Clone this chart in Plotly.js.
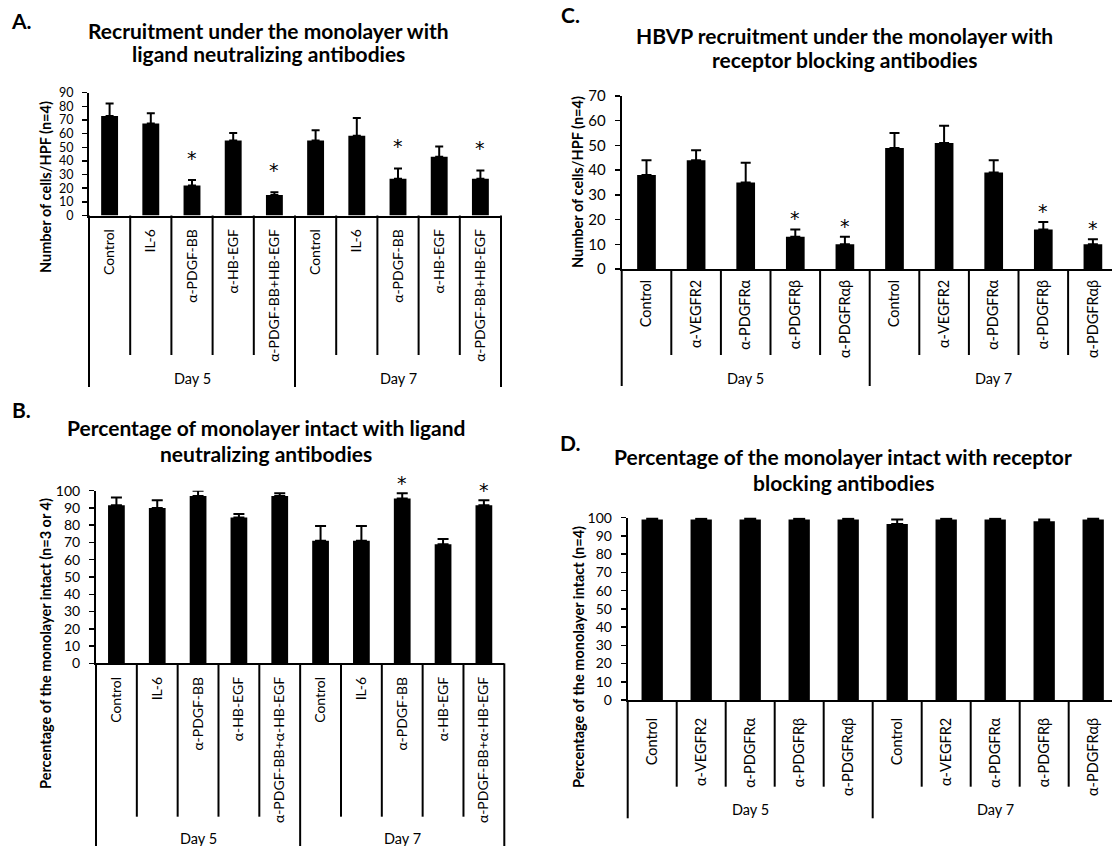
<!DOCTYPE html>
<html><head><meta charset="utf-8">
<script src="https://cdn.plot.ly/plotly-3.0.1.min.js"></script>
<style>html,body{margin:0;padding:0;background:#fff;overflow:hidden}#chart{width:1112px;height:846px}</style>
</head><body><div id="chart"></div>
<script>
// ---------- DATA ----------
const groups = ['Day 5', 'Day 7'];

const labelsA = ['Control','IL-6','α-PDGF-BB','α-HB-EGF','α-PDGF-BB+HB-EGF','Control','IL-6','α-PDGF-BB','α-HB-EGF','α-PDGF-BB+HB-EGF'];
const meanA = [73, 67.5, 22, 55, 15, 55, 58.5, 27, 43, 27];
const errA  = [9, 7.5, 4, 5.5, 2, 7.5, 13, 7.5, 7.5, 6];
const sigA  = [0, 0, 1, 0, 1, 0, 0, 1, 0, 1];

const labelsB = ['Control','IL-6','α-PDGF-BB','α-HB-EGF','α-PDGF-BB+α-HB-EGF','Control','IL-6','α-PDGF-BB','α-HB-EGF','α-PDGF-BB+α-HB-EGF'];
const meanB = [91.5, 90, 97, 84.5, 97, 71, 71, 95.5, 69, 91.5];
const errB  = [4.5, 4.5, 3, 2, 1.5, 8.5, 8.5, 3, 3, 3];
const sigB  = [0, 0, 0, 0, 0, 0, 0, 1, 0, 1];

const labelsC = ['Control','α-VEGFR2','α-PDGFRα','α-PDGFRβ','α-PDGFRαβ','Control','α-VEGFR2','α-PDGFRα','α-PDGFRβ','α-PDGFRαβ'];
const meanC = [38, 44, 35, 13, 10, 49, 51, 39, 16, 10];
const errC  = [6, 4, 8, 3, 3, 6, 7, 5, 3, 2];
const sigC  = [0, 0, 0, 1, 1, 0, 0, 0, 1, 1];

const labelsD = ['Control','α-VEGFR2','α-PDGFRα','α-PDGFRβ','α-PDGFRαβ','Control','α-VEGFR2','α-PDGFRα','α-PDGFRβ','α-PDGFRαβ'];
const meanD = [99, 99, 99, 99, 99, 96.5, 99, 99, 98, 99];
const errD  = [1, 0.5, 1, 0.5, 0.5, 2.5, 0.5, 0.5, 1, 1];
const sigD  = [0, 0, 0, 0, 0, 0, 0, 0, 0, 0];

const titlesA = ['Recruitment under the monolayer with', 'ligand neutralizing antibodies'];
const titlesB = ['Percentage of monolayer intact with ligand', 'neutralizing antibodies'];
const titlesC = ['HBVP recruitment under the monolayer with', 'receptor blocking antibodies'];
const titlesD = ['Percentage of the monolayer intact with receptor', 'blocking antibodies'];
const yTitleA = 'Number of cells/HPF (n=4)';
const yTitleB = 'Percentage of the monolayer intact (n=3 or 4)';
const yTitleC = 'Number of cells/HPF (n=4)';
const yTitleD = 'Percentage of the monolayer intact (n=4)';

// ---------- LAYOUT ----------
const W = 1112, H = 846;
const FONT = 'Lato, Carlito, "Open Sans", sans-serif';
const STARFONT = '"DejaVu Sans", sans-serif';
const px = v => v / W;
const py = v => 1 - v / H;

const panels = [
  {id:'', letter:'A.', letterPos:[21,20], labels:labelsA, mean:meanA, err:errA, sig:sigA, titles:titlesA, titlePos:[268,31,54],
   ytitle:yTitleA, ytPos:[45,187], xd:[89,501], yd:[92.7,215.5], yr:[0,90], xr:[-0.5,9.5], barw:0.41, cap:4,
   tickBottom:355, groupBottom:387, dayY:378, gap:6, tickSize:12.5, catSize:14, starShift:22},
  {id:'2', letter:'C.', letterPos:[570,15], labels:labelsC, mean:meanC, err:errC, sig:sigC, titles:titlesC, titlePos:[844,36,60],
   ytitle:yTitleC, ytPos:[578,182], xd:[621.7,1112], yd:[96,269], yr:[0,70], xr:[-0.5,9.385], barw:0.377, cap:5,
   tickBottom:355, groupBottom:386, dayY:378, gap:3, tickSize:15, catSize:14.5, starShift:11},
  {id:'3', letter:'B.', letterPos:[21,409], labels:labelsB, mean:meanB, err:errB, sig:sigB, titles:titlesB, titlePos:[266,428,453],
   ytitle:yTitleB, ytPos:[45,644], xd:[96,504.3], yd:[490.7,663.3], yr:[0,100], xr:[-0.5,9.5], barw:0.41, cap:5.5,
   tickBottom:816.7, groupBottom:850, dayY:838, gap:6, tickSize:14, catSize:14, starShift:10},
  {id:'4', letter:'D.', letterPos:[570,442], labels:labelsD, mean:meanD, err:errD, sig:sigD, titles:titlesD, titlePos:[843,457,482],
   ytitle:yTitleD, ytPos:[578,657], xd:[627.7,1112], yd:[517.7,700], yr:[0,100], xr:[-0.5,9.384], barw:0.435, cap:6,
   tickBottom:786.7, groupBottom:818.3, dayY:809, gap:10, tickSize:14, catSize:14.5, starShift:10}
];

const data = [];
const layout = {
  width: W, height: H, margin:{l:0,r:0,t:0,b:0}, paper_bgcolor:'#fff', plot_bgcolor:'rgba(0,0,0,0)',
  showlegend:false, font:{family:FONT, color:'#000'}, annotations:[], shapes:[]
};

panels.forEach(p => {
  const xa = 'x' + p.id, ya = 'y' + p.id;
  const idx = p.labels.map((_, i) => i);
  data.push({
    type:'bar', x: idx, y: p.mean, xaxis: xa, yaxis: ya, width: p.barw,
    marker:{color:'#000', line:{width:0}},
    error_y:{type:'data', array:p.err, arrayminus:p.err.map(() => 0), symmetric:false, color:'#000', thickness:2, width:p.cap},
    hoverinfo:'skip'
  });
  const xd = [px(p.xd[0]), px(p.xd[1])];
  const yd = [py(p.yd[1]), py(p.yd[0])];
  layout['xaxis' + p.id] = {
    domain: xd, range: p.xr, anchor: ya, tickmode:'array', tickvals: idx, ticktext: p.labels,
    tickangle: -90, ticks:'', showline:true, linecolor:'#000', linewidth:2, showgrid:false, zeroline:false,
    tickfont:{family:FONT, size:p.catSize, color:'#000'}, ticklabelstandoff: p.gap, fixedrange:true
  };
  layout['yaxis' + p.id] = {
    domain: yd, range: p.yr, anchor: xa, dtick:10, tick0:0, ticks:'outside', ticklen:5, tickwidth:1.5, tickcolor:'#000',
    showline:true, linecolor:'#000', linewidth:2, showgrid:false, zeroline:false,
    tickfont:{family:FONT, size:p.tickSize, color:'#000'}, ticklabelstandoff: 6, fixedrange:true
  };
  // divider lines at category boundaries
  const toPaperX = b => xd[0] + (b - p.xr[0]) / (p.xr[1] - p.xr[0]) * (xd[1] - xd[0]);
  const n = p.labels.length;
  const perGroup = n / groups.length;
  for (let i = 0; i <= n; i++) {
    const b = i - 0.5;
    if (b > p.xr[1] + 1e-6) continue;
    const isGroupEdge = (i % perGroup === 0);
    layout.shapes.push({
      type:'line', xref:'paper', yref:'paper', x0: toPaperX(b), x1: toPaperX(b),
      y0: py(p.yd[1]), y1: py(isGroupEdge ? p.groupBottom : p.tickBottom),
      line:{color:'#000', width:2}
    });
  }
  // group labels
  groups.forEach((g, gi) => {
    layout.annotations.push({
      text: g, xref: xa, yref:'paper', x: gi * perGroup + (perGroup - 1) / 2, y: py(p.dayY),
      xanchor:'center', yanchor:'middle', showarrow:false, font:{family:FONT, size:14.5, color:'#000'}
    });
  });
  // significance stars
  p.sig.forEach((s, i) => {
    if (!s) return;
    layout.annotations.push({
      text:'*', xref: xa, yref: ya, x: i, y: p.mean[i] + p.err[i], yshift: p.starShift,
      xanchor:'center', yanchor:'middle', showarrow:false, font:{family:STARFONT, size:19, color:'#000'}
    });
  });
  // titles
  p.titles.forEach((t, li) => {
    layout.annotations.push({
      text: '<b>' + t + '</b>', xref:'paper', yref:'paper', x: px(p.titlePos[0]), y: py(p.titlePos[1 + li]),
      xanchor:'center', yanchor:'middle', showarrow:false, font:{family:FONT, size:21, color:'#000'}
    });
  });
  // y title
  layout.annotations.push({
    text: '<b>' + p.ytitle + '</b>', xref:'paper', yref:'paper', x: px(p.ytPos[0]), y: py(p.ytPos[1]),
    xanchor:'center', yanchor:'middle', textangle:-90, showarrow:false, font:{family:FONT, size:14.5, color:'#000'}
  });
  // panel letter
  layout.annotations.push({
    text: '<b>' + p.letter + '</b>', xref:'paper', yref:'paper', x: px(p.letterPos[0]), y: py(p.letterPos[1]),
    xanchor:'center', yanchor:'middle', showarrow:false, font:{family:FONT, size:21, color:'#000'}
  });
});

Plotly.newPlot('chart', data, layout, {staticPlot:true, displayModeBar:false});
</script>
</body></html>
